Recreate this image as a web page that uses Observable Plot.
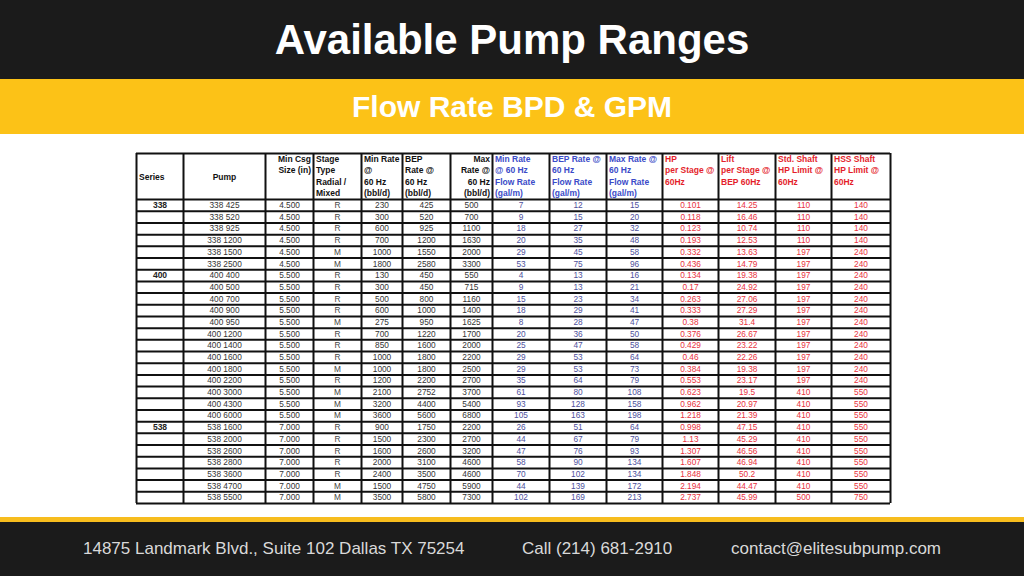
<!DOCTYPE html>
<html>
<head>
<meta charset="utf-8">
<script src="https://cdn.jsdelivr.net/npm/d3@7"></script>
<script src="https://cdn.jsdelivr.net/npm/@observablehq/plot@0.6"></script>
<style>
  html, body { margin: 0; padding: 0; background: #ffffff; width: 1024px; height: 576px; overflow: hidden; font-family: "Liberation Sans", Arial, sans-serif; }
  #top { height: 79px; background: #1b1b1b; color: #fff; display: flex; align-items: center; justify-content: center; font-weight: bold; font-size: 42px; }
  #sub { height: 55px; background: #fcc217; color: #fff; display: flex; align-items: center; justify-content: center; font-weight: bold; font-size: 30px; }
  #chart { height: 383px; background: #fff; }
  #chart svg { display: block; }
  #line { height: 5px; background: #f7bd1e; }
  #foot { height: 54px; background: #1b1b1b; position: relative; color: #d9d9d9; font-size: 17px; }
  #foot span { position: absolute; top: 0; line-height: 54px; white-space: nowrap; }
</style>
</head>
<body>
<div id="top">Available Pump Ranges</div>
<div id="sub">Flow Rate BPD &amp; GPM</div>
<div id="chart"></div>
<div id="line"></div>
<div id="foot">
  <span style="left:83px">14875 Landmark Blvd., Suite 102 Dallas TX 75254</span>
  <span style="left:522px">Call (214) 681-2910</span>
  <span style="left:731px">contact@elitesubpump.com</span>
</div>
<script>
// ---- data ----
const headers = [
  "Series", "Pump", "Min Csg\nSize (in)", "Stage\nType\nRadial /\nMixed",
  "Min Rate\n@\n60 Hz\n(bbl/d)", "BEP\nRate @\n60 Hz\n(bbl/d)", "Max\nRate @\n60 Hz\n(bbl/d)",
  "Min Rate\n@ 60 Hz\nFlow Rate\n(gal/m)", "BEP Rate @\n60 Hz\nFlow Rate\n(gal/m)", "Max Rate @\n60 Hz\nFlow Rate\n(gal/m)",
  "HP\nper Stage @\n60Hz", "Lift\nper Stage @\nBEP 60Hz", "Std. Shaft\nHP Limit @\n60Hz", "HSS Shaft\nHP Limit @\n60Hz"
];
const series = ["338","","","","","", "400","","","","","","","","","","","","", "538","","","","","",""];
const pumps = ["338 425","338 520","338 925","338 1200","338 1500","338 2500",
  "400 400","400 500","400 700","400 900","400 950","400 1200","400 1400","400 1600","400 1800","400 2200","400 3000","400 4300","400 6000",
  "538 1600","538 2000","538 2600","538 2800","538 3600","538 4700","538 5500"];
const minCsg = ["4.500","4.500","4.500","4.500","4.500","4.500",
  "5.500","5.500","5.500","5.500","5.500","5.500","5.500","5.500","5.500","5.500","5.500","5.500","5.500",
  "7.000","7.000","7.000","7.000","7.000","7.000","7.000"];
const stage = ["R","R","R","R","M","M", "R","R","R","R","M","R","R","R","M","R","M","M","M", "R","R","R","R","R","M","M"];
const minRate = ["230","300","600","700","1000","1800", "130","300","500","600","275","700","850","1000","1000","1200","2100","3200","3600", "900","1500","1600","2000","2400","1500","3500"];
const bepRate = ["425","520","925","1200","1550","2580", "450","450","800","1000","950","1220","1600","1800","1800","2200","2752","4400","5600", "1750","2300","2600","3100","3500","4750","5800"];
const maxRate = ["500","700","1100","1630","2000","3300", "550","715","1160","1400","1625","1700","2000","2200","2500","2700","3700","5400","6800", "2200","2700","3200","4600","4600","5900","7300"];
const minGpm = ["7","9","18","20","29","53", "4","9","15","18","8","20","25","29","29","35","61","93","105", "26","44","47","58","70","44","102"];
const bepGpm = ["12","15","27","35","45","75", "13","13","23","29","28","36","47","53","53","64","80","128","163", "51","67","76","90","102","139","169"];
const maxGpm = ["15","20","32","48","58","96", "16","21","34","41","47","50","58","64","73","79","108","158","198", "64","79","93","134","134","172","213"];
const hpStage = ["0.101","0.118","0.123","0.193","0.332","0.436", "0.134","0.17","0.263","0.333","0.38","0.376","0.429","0.46","0.384","0.553","0.623","0.962","1.218", "0.998","1.13","1.307","1.607","1.848","2.194","2.737"];
const liftStage = ["14.25","16.46","10.74","12.53","13.63","14.79", "19.38","24.92","27.06","27.29","31.4","26.67","23.22","22.26","19.38","23.17","19.5","20.97","21.39", "47.15","45.29","46.56","46.94","50.2","44.47","45.99"];
const stdShaft = ["110","110","110","110","197","197", "197","197","197","197","197","197","197","197","197","197","410","410","410", "410","410","410","410","410","410","500"];
const hssShaft = ["140","140","140","140","240","240", "240","240","240","240","240","240","240","240","240","240","550","550","550", "550","550","550","550","550","550","750"];

// ---- layout ----
const colWidths = [47,82,48,48,41,48,42,57,57,56,56,57,56,59];
const headerAlign = ["start","middle","end","start","start","start","end","start","start","start","start","start","start","start"];
const headerColors = ["#111","#111","#111","#111","#111","#111","#111","#3b4bc8","#3b4bc8","#3b4bc8","#e41e2b","#e41e2b","#e41e2b","#e41e2b"];
const dataColors = ["#222","#333","#333","#444","#333","#333","#333","#4e509c","#4e509c","#4e509c","#e8313d","#e8313d","#e8313d","#e8313d"];

const columns = [series, pumps, minCsg, stage, minRate, bepRate, maxRate, minGpm, bepGpm, maxGpm, hpStage, liftStage, stdShaft, hssShaft];
const edges = [0];
colWidths.forEach(w => edges.push(edges[edges.length - 1] + w));
const totalW = edges[edges.length - 1];
const H = 3.94;               // header height in row units
const nRows = pumps.length;
const totalH = H + nRows;
const rowEdges = [0, ...d3.range(nRows + 1).map(i => H + i)];
const center = c => (edges[c] + edges[c + 1]) / 2;

const cells = [];
columns.forEach((arr, c) => arr.forEach((t, r) => { if (t !== "") cells.push({col: c, row: r, text: t}); }));

const headerMarks = headers.map((h, c) => {
  const a = headerAlign[c];
  const x = a === "start" ? edges[c] + 2.5 : a === "end" ? edges[c + 1] - 2.5 : center(c);
  const single = c <= 1;
  return Plot.text([h], {
    x: () => x,
    y: () => single ? H / 2 : 0.02,
    text: d => d,
    textAnchor: a,
    lineAnchor: single ? "middle" : "top",
    lineHeight: 1.34,
    fontSize: 8.5,
    fontWeight: "bold",
    fill: headerColors[c]
  });
});

const chart = Plot.plot({
  width: 1024,
  height: 383,
  marginLeft: 136,
  marginRight: 134,
  marginTop: 19,
  marginBottom: 14,
  style: {fontFamily: "'Liberation Sans', Arial, sans-serif", background: "#fff"},
  x: {domain: [0, totalW], axis: null},
  y: {domain: [0, totalH], reverse: true, axis: null},
  color: {type: "identity"},
  marks: [
    Plot.ruleX(edges, {x: d => d, y1: () => 0, y2: () => totalH, stroke: "#111", strokeWidth: 2}),
    Plot.ruleY(rowEdges, {y: d => d, x1: () => 0, x2: () => totalW, stroke: "#111", strokeWidth: 2}),
    ...headerMarks,
    Plot.text(cells.filter(d => d.col > 0), {
      x: d => center(d.col), y: d => H + d.row + 0.5, text: "text",
      fill: d => dataColors[d.col], fontSize: 8.3, textAnchor: "middle"
    }),
    Plot.text(cells.filter(d => d.col === 0), {
      x: d => center(d.col), y: d => H + d.row + 0.5, text: "text",
      fill: d => dataColors[d.col], fontSize: 8.5, fontWeight: "bold", textAnchor: "middle"
    })
  ]
});
document.getElementById("chart").appendChild(chart);
</script>
</body>
</html>
